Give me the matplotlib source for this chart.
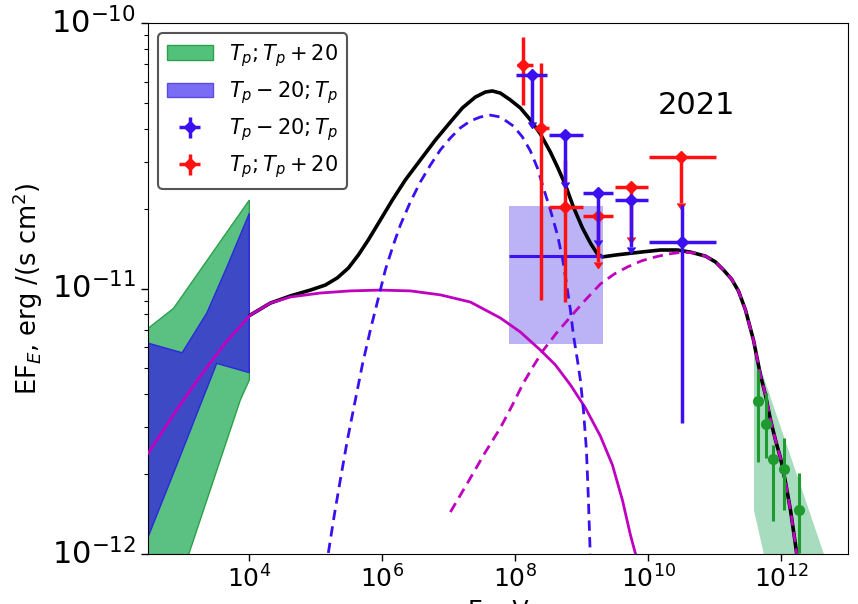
import numpy as np
import matplotlib
matplotlib.use("Agg")
import matplotlib.pyplot as plt
from matplotlib.patches import Patch
from matplotlib.ticker import NullLocator

# ---- data (log10 E [eV], log10 EF_E [erg/(s cm2)]) ----
# synchrotron (magenta solid)
sync_loge = [2.481, 2.887, 3.263, 3.639, 4.015, 4.316, 4.617, 5.068, 5.519, 5.970, 6.421, 6.872, 7.323, 7.774,
             8.075, 8.376, 8.602, 8.827, 9.053, 9.278, 9.459, 9.609, 9.729, 9.850]
sync_logf = [-11.620, -11.465, -11.330, -11.205, -11.100, -11.055, -11.032, -11.017, -11.009, -11.006, -11.009,
             -11.024, -11.051, -11.111, -11.164, -11.232, -11.288, -11.363, -11.450, -11.556, -11.665, -11.797,
             -11.928, -12.041]

# first IC component (blue dashed)
ic1_loge = [5.188, 5.278, 5.368, 5.474, 5.594, 5.699, 5.820, 5.940, 6.045, 6.165, 6.271, 6.421, 6.571, 6.722,
            6.872, 7.023, 7.173, 7.323, 7.474, 7.624, 7.774, 7.970, 8.105, 8.226, 8.331, 8.421, 8.526, 8.632,
            8.707, 8.767, 8.827, 8.872, 8.932, 8.977, 9.023, 9.068, 9.098, 9.128]
ic1_logf = [-11.996, -11.853, -11.721, -11.571, -11.420, -11.288, -11.156, -11.036, -10.930, -10.836, -10.761,
            -10.674, -10.599, -10.535, -10.478, -10.433, -10.395, -10.369, -10.354, -10.347, -10.354, -10.388,
            -10.429, -10.482, -10.546, -10.621, -10.704, -10.798, -10.885, -10.979, -11.081, -11.175, -11.269,
            -11.345, -11.458, -11.608, -11.797, -12.023]

# second IC component (magenta dashed)
ic2_loge = [7.023, 7.173, 7.323, 7.549, 7.774, 7.955, 8.120, 8.271, 8.421, 8.617, 8.827, 9.053, 9.278, 9.489,
            9.684, 9.895, 10.105, 10.301, 10.511, 10.692, 10.857, 11.008, 11.128, 11.248, 11.353, 11.459, 11.579,
            11.684, 11.759, 11.835, 11.910, 11.985, 12.060, 12.135, 12.211, 12.241]
ic2_logf = [-11.842, -11.778, -11.714, -11.616, -11.525, -11.439, -11.356, -11.292, -11.232, -11.168, -11.107,
            -11.043, -10.983, -10.945, -10.919, -10.896, -10.881, -10.870, -10.863, -10.866, -10.878, -10.900,
            -10.930, -10.964, -11.009, -11.081, -11.194, -11.326, -11.401, -11.495, -11.571, -11.638, -11.729,
            -11.834, -11.966, -12.023]

# total model (black)
tot_loge = [4.015, 4.316, 4.617, 4.917, 5.143, 5.323, 5.489, 5.639, 5.789, 5.970, 6.150, 6.346, 6.571, 6.797,
            7.023, 7.203, 7.398, 7.549, 7.654, 7.774, 7.925, 8.075, 8.226, 8.376, 8.526, 8.632, 8.752, 8.872,
            9.008, 9.128, 9.233, 9.308, 9.504, 9.880, 10.180, 10.436, 10.632, 10.857, 11.008, 11.128, 11.248,
            11.353, 11.459, 11.579, 11.684, 11.759, 11.835, 11.910, 11.985, 12.060, 12.135, 12.211, 12.241]
tot_logf = [-11.100, -11.055, -11.028, -11.006, -10.987, -10.960, -10.923, -10.874, -10.817, -10.742, -10.667,
            -10.591, -10.516, -10.441, -10.373, -10.320, -10.279, -10.260, -10.256, -10.264, -10.290, -10.320,
            -10.365, -10.418, -10.486, -10.542, -10.610, -10.693, -10.772, -10.829, -10.870, -10.881, -10.874,
            -10.863, -10.855, -10.855, -10.863, -10.878, -10.900, -10.930, -10.964, -11.009, -11.081, -11.194,
            -11.326, -11.401, -11.495, -11.571, -11.638, -11.729, -11.834, -11.966, -12.023]

# X-ray butterflies
xg_up_loge = [2.48, 2.86, 4.0]
xg_up_logf = [-11.15, -11.075, -10.667]
xg_lo_loge = [2.48, 3.06, 3.865, 4.0]
xg_lo_logf = [-12.46, -12.023, -11.42, -11.345]
xb_up_loge = [2.48, 2.99, 3.36, 3.665, 4.0]
xb_up_logf = [-11.206, -11.242, -11.093, -10.918, -10.717]
xb_lo_loge = [2.48, 2.86, 3.51, 4.0]
xb_lo_logf = [-11.935, -11.696, -11.282, -11.317]

# Fermi-LAT box (T_p - 20; T_p)
box_loge = [7.90, 9.31]
box_logf = [-11.209, -10.689]
box_mid_logf = -10.878

# red points, T_p; T_p + 20 : detections
red_loge = [8.12, 8.386, 8.752]
red_lo_loge = [8.03, 8.30, 8.50]
red_hi_loge = [8.26, 8.50, 9.01]
red_logf = [-10.158, -10.395, -10.693]
red_top_logf = [-10.053, -10.151, -10.516]
red_bot_logf = [-10.309, -11.043, -11.051]
# red upper limits
redul_loge = [9.248, 9.744, 10.496]
redul_lo_loge = [9.02, 9.49, 10.015]
redul_hi_loge = [9.47, 10.0, 11.01]
redul_logf = [-10.727, -10.618, -10.505]
redul_tip_logf = [-10.900, -10.806, -10.678]

# blue points, T_p - 20; T_p : detection
blue_loge = [10.51]
blue_lo_loge = [10.015]
blue_hi_loge = [11.01]
blue_logf = [-10.825]
blue_top_logf = [-10.685]
blue_bot_logf = [-11.507]
# blue upper limits
blueul_loge = [8.25, 8.752, 9.248, 9.744]
blueul_lo_loge = [8.015, 8.50, 9.02, 9.49]
blueul_hi_loge = [8.48, 9.01, 9.47, 10.0]
blueul_logf = [-10.196, -10.422, -10.640, -10.667]
blueul_tip_logf = [-10.373, -10.599, -10.817, -10.844]

# VHE points and band
vhe_loge = [11.644, 11.774, 11.869, 12.045, 12.26]
vhe_logf = [-11.423, -11.510, -11.643, -11.680, -11.834]
vhe_top_logf = [-11.307, -11.394, -11.589, -11.563, -11.695]
vhe_bot_logf = [-11.652, -11.638, -11.876, -11.834, -11.996]
vband_loge = [11.579, 12.632, 12.9]
vband_up_logf = [-11.224, -12.0, -12.15]
vband_lo_logf = [-11.834, -13.0, -13.1]


def p(a):
    return 10.0 ** np.asarray(a, dtype=float)


RED = "#ff1111"
BLUE = "#3c0ff0"
MAG = "#bf00bf"
DASH = (0, (3.7, 2.3))

plt.rcParams["ytick.alignment"] = "center"

fig = plt.figure(figsize=(8.58, 6.04), dpi=100)
ax = fig.add_axes([148 / 858, 1 - 554 / 604, 700 / 858, 531 / 604])
ax.set_xscale("log")
ax.set_yscale("log")

# X-ray bands
ax.fill(np.r_[p(xg_up_loge), p(xg_lo_loge)[::-1]], np.r_[p(xg_up_logf), p(xg_lo_logf)[::-1]],
        facecolor="#5bc182", edgecolor="#2ca04a", lw=1, zorder=1)
ax.fill(np.r_[p(xb_up_loge), p(xb_lo_loge)[::-1]], np.r_[p(xb_up_logf), p(xb_lo_logf)[::-1]],
        facecolor="#3e49c6", edgecolor="#2a2ad8", lw=1, zorder=2)

# Fermi box
ax.fill_between(p(box_loge), p(box_logf[0]), p(box_logf[1]), color="#7b68ee", alpha=0.5, lw=0, zorder=1)

# VHE band
ax.fill_between(p(vband_loge), p(vband_lo_logf), p(vband_up_logf), color="#3cb371", alpha=0.45, lw=0, zorder=1)

# model curves
ax.plot(p(tot_loge), p(tot_logf), color="black", lw=2.6, zorder=3)
ax.plot(p(sync_loge), p(sync_logf), color=MAG, lw=2.0, zorder=4)
ax.plot(p(ic1_loge), p(ic1_logf), color=BLUE, lw=2, ls=DASH, zorder=4)
ax.plot(p(ic2_loge), p(ic2_logf), color=MAG, lw=2, ls=DASH, zorder=4)

# VHE points
vx = p(vhe_loge)
vy = p(vhe_logf)
ax.errorbar(vx, vy, yerr=[vy - p(vhe_bot_logf), p(vhe_top_logf) - vy], fmt="o", color="#1f9a2e",
            ms=7, elinewidth=2.2, capsize=0, zorder=5)


def err_pts(loge, lo, hi, logf, top, bot):
    x, y = p(loge), p(logf)
    xerr = [x - p(lo), p(hi) - x]
    yerr = [y - p(bot), p(top) - y]
    return x, y, xerr, yerr


# Fermi box horizontal line (no marker)
bx = 10 ** ((box_loge[0] + box_loge[1]) / 2)
ax.errorbar([bx], [p(box_mid_logf)], xerr=[[bx - p(box_loge[0])], [p(box_loge[1]) - bx]],
            fmt="none", ecolor=BLUE, elinewidth=2.2, zorder=6)

# red
x, y, xe, ye = err_pts(red_loge, red_lo_loge, red_hi_loge, red_logf, red_top_logf, red_bot_logf)
red_h = ax.errorbar(x, y, xerr=xe, yerr=ye, fmt="D", color=RED, ms=6, elinewidth=2.5, capsize=0, zorder=6)
x, y = p(redul_loge), p(redul_logf)
ax.errorbar(x, y, xerr=[x - p(redul_lo_loge), p(redul_hi_loge) - x], yerr=y - p(redul_tip_logf), uplims=True,
            fmt="D", color=RED, ms=6, elinewidth=2.5, zorder=6)

# blue
x, y, xe, ye = err_pts(blue_loge, blue_lo_loge, blue_hi_loge, blue_logf, blue_top_logf, blue_bot_logf)
blue_h = ax.errorbar(x, y, xerr=xe, yerr=ye, fmt="D", color=BLUE, ms=6, elinewidth=2.5, capsize=0, zorder=7)
x, y = p(blueul_loge), p(blueul_logf)
ax.errorbar(x, y, xerr=[x - p(blueul_lo_loge), p(blueul_hi_loge) - x], yerr=y - p(blueul_tip_logf), uplims=True,
            fmt="D", color=BLUE, ms=6, elinewidth=2.5, zorder=7)

ax.text(10 ** 10.72, 10 ** -10.31, "2021", fontsize=22, ha="center", va="center")

ax.set_xlim(3e2, 1e13)
ax.set_ylim(1e-12, 1e-10)
ax.set_xticks([1e4, 1e6, 1e8, 1e10, 1e12])
ax.xaxis.set_minor_locator(NullLocator())
ax.tick_params(axis="x", which="major", labelsize=18, length=5, width=1)
ax.tick_params(axis="y", which="major", labelsize=22, length=5, width=1)
ax.tick_params(axis="both", which="minor", length=3, width=0.8)
ax.set_ylabel("EF$_E$, erg /(s cm$^2$)", fontsize=18.5)
ax.yaxis.set_label_coords(-0.147, 0.5)
ax.set_xlabel("E, eV", fontsize=17)

handles = [Patch(facecolor="#52c27a", edgecolor="#2ca04a"),
           Patch(facecolor="#7b6cf5", edgecolor="#5a4de0"),
           blue_h, red_h]
labels = ["$T_p; T_p + 20$", "$T_p - 20; T_p$", "$T_p - 20; T_p$", "$T_p; T_p + 20$"]
leg = ax.legend(handles, labels, loc="upper left", fontsize=15, handlelength=2.2, framealpha=1,
                edgecolor="#555555", fancybox=True, borderaxespad=0.5)
leg.get_frame().set_linewidth(1.5)

fig.savefig("out.png", dpi=100)
